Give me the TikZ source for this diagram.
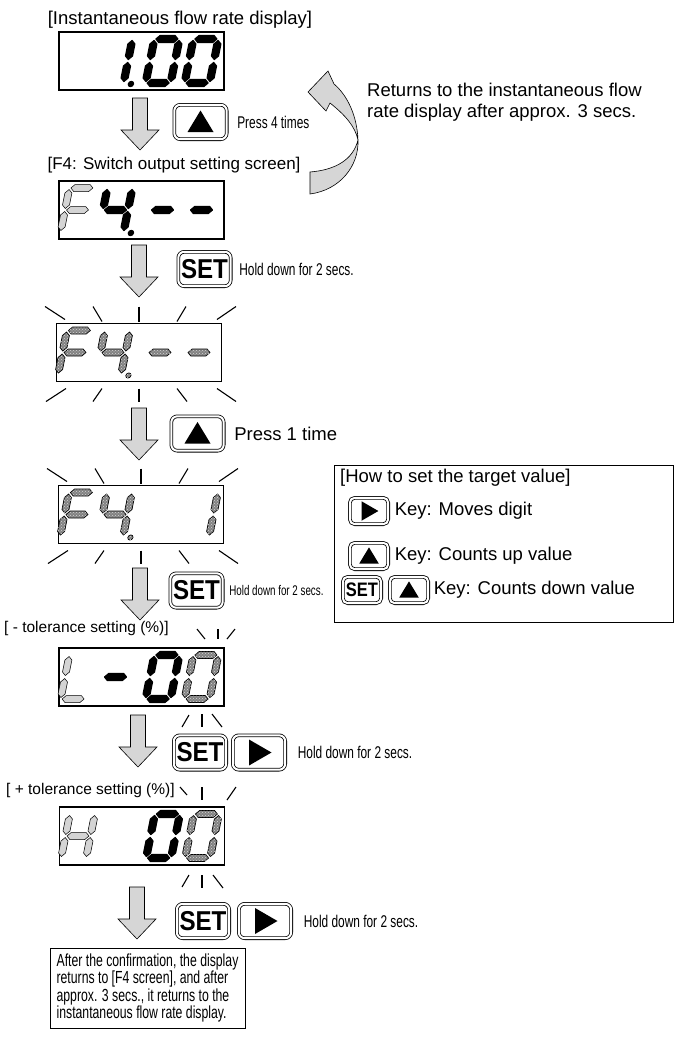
\documentclass[tikz,border=0pt]{standalone}
\usepackage{fontspec}
\setmainfont{Liberation Sans}
\newfontfamily\narrowfont[FakeStretch=0.7]{Liberation Sans}
\usepackage{graphicx}
\usetikzlibrary{positioning,calc,patterns}

\definecolor{segdark}{RGB}{130,130,130}
\definecolor{seglight}{RGB}{212,212,212}
\definecolor{flowgray}{RGB}{214,214,214}

\newcommand{\bigtxt}{\fontsize{18.5}{21}\selectfont}
\newcommand{\midtxt}{\fontsize{17}{20}\selectfont}
\newcommand{\lowtxt}{\fontsize{15.5}{18}\selectfont}
\newcommand{\smalltxt}{\narrowfont\fontsize{17}{19}\selectfont}
\newcommand{\tinytxt}{\narrowfont\fontsize{14}{16}\selectfont}
\newcommand{\setlabel}{\fontsize{21}{21}\selectfont\bfseries\scalebox{1.15}[1.3]{SET}}
\newcommand{\setlabelsmall}{\fontsize{15}{15}\selectfont\bfseries\scalebox{1.1}[1.3]{SET}}

% one digit of the display, unslanted, y up
\newcommand{\lcdsega}{(-11,22) -- (-7.5,25.5) -- (7.5,25.5) -- (11,22) -- (7.5,18.5) -- (-7.5,18.5) -- cycle}
\newcommand{\lcdsegb}{(12.5,1.5) -- (9,5) -- (9,17) -- (12.5,20.5) -- (16,17) -- (16,5) -- cycle}
\newcommand{\lcdsegc}{(12.5,-1.5) -- (9,-5) -- (9,-17) -- (12.5,-20.5) -- (16,-17) -- (16,-5) -- cycle}
\newcommand{\lcdsegd}{(-11,-22) -- (-7.5,-18.5) -- (7.5,-18.5) -- (11,-22) -- (7.5,-25.5) -- (-7.5,-25.5) -- cycle}
\newcommand{\lcdsege}{(-12.5,-1.5) -- (-16,-5) -- (-16,-17) -- (-12.5,-20.5) -- (-9,-17) -- (-9,-5) -- cycle}
\newcommand{\lcdsegf}{(-12.5,1.5) -- (-16,5) -- (-16,17) -- (-12.5,20.5) -- (-9,17) -- (-9,5) -- cycle}
\newcommand{\lcdsegg}{(-11,0) -- (-7.5,3.5) -- (7.5,3.5) -- (11,0) -- (7.5,-3.5) -- (-7.5,-3.5) -- cycle}
\newcommand{\lcdsegp}{(20,-23) circle (2.6)}

\newcommand{\lcddigit}[4]{%
  \edef\lcdoff{\ifcase#2\or-64\or-26\or21\or60\fi}%
  \begin{scope}[shift={($(#1.center)+(\lcdoff,0)$)}, yscale=-1, xslant=-0.2]
    \foreach \s in {#3} {\expandafter\let\expandafter\lcdcur\csname lcdseg\s\endcsname
      \path[#4] \lcdcur;}
  \end{scope}}

\newcommand{\flashall}[1]{%
  \begin{scope}[shift={(#1.center)}]
    \foreach \xa/\ya/\xb/\yb in {-94/-46/-74/-33, -46/-46/-37/-31, 0/-46/0/-31, 47/-46/38/-31, 97/-46/78/-33,
        -73/36/-93/49, -37/36/-46/49, 0/36/0/49, 38/36/48/49, 78/36/97/49}
      \draw[ray] (\xa,\ya) -- (\xb,\yb);
  \end{scope}}

\newcommand{\flowarrow}[1]{%
  \filldraw[flow, shift={(#1)}] (-7.5,0) -- (7.5,0) -- (7.5,32) -- (19,32) -- (0,52) -- (-19,32) -- (-7.5,32) -- cycle;}
\newcommand{\uptri}[2][1]{\fill[shift={(#2.center)}, scale=#1] (-13,10) -- (13,10) -- (0,-11.5) -- cycle;}
\newcommand{\righttri}[2][1]{\fill[shift={(#2.center)}, scale=#1] (-10,-13) -- (-10,13) -- (12.5,0) -- cycle;}

\begin{document}
\begin{tikzpicture}[x=1pt, y=-1pt,
    txt/.style={font=\bigtxt, inner sep=0pt},
    nar/.style={font=\smalltxt, inner sep=0pt},
    lcd/.style={draw, line width=1.1pt, minimum width=165pt, minimum height=58pt, inner sep=0pt},
    key/.style={draw, rounded corners=6pt, double, double distance=2pt, line width=0.8pt,
                minimum width=52.4pt, minimum height=34.4pt, inner sep=0pt},
    smallkey/.style={key, rounded corners=5pt, minimum width=38.4pt, minimum height=26.4pt},
    segon/.style={fill=black, draw=black, line width=1.2pt, line join=round},
    segdim/.style={fill=seglight, draw=black, line width=0.5pt},
    segblink/.style={fill=segdark, draw=black, line width=0.7pt,
                     postaction={pattern=crosshatch dots, pattern color=seglight}},
    ray/.style={line width=1.1pt},
    flow/.style={fill=flowgray, draw=black, line width=0.6pt}
  ]
  \useasboundingbox (0,0) rectangle (675,1039);

  \node[txt] (t1) at (180,20) {[Instantaneous flow rate display]};
  \node[lcd] (d1) at (141.5,61) {};
  \lcddigit{d1}{2}{b,c,p}{segon}
  \lcddigit{d1}{3}{a,b,c,d,e,f}{segon}
  \lcddigit{d1}{4}{a,b,c,d,e,f}{segon}

  \coordinate (a1) at (140,98);
  \flowarrow{a1}
  \node[key] (k1) at (200.5,122) {};
  \uptri{k1}
  \node[nar, right=10pt of k1] (p1) {Press 4 times};

  \filldraw[flow] (310,194) .. controls (340,190) and (359,166) .. (358,140)
    .. controls (357,115) and (347,95) .. (334,84) -- (328,71) -- (308,92) -- (326,111) -- (330,103)
    .. controls (345,115) and (355,126) .. (358,140)
    .. controls (353,160) and (335,170) .. (310,172) -- cycle;
  \node[txt, anchor=west, align=left] (ret) at (367,102) {Returns to the instantaneous flow\\rate display after approx. 3 secs.};

  \node[txt, font=\midtxt] (t2) at (174,165) {[F4: Switch output setting screen]};
  \node[lcd] (d2) at (141.5,210) {};
  \lcddigit{d2}{1}{a,f,g,e}{segdim}
  \lcddigit{d2}{2}{f,g,b,c,p}{segon}
  \lcddigit{d2}{3}{g}{segon}
  \lcddigit{d2}{4}{g}{segon}

  \coordinate (a2) at (139,245);
  \flowarrow{a2}
  \node[key] (k2) at (204.5,269) {\setlabel};
  \node[nar, right=8pt of k2] (h2) {Hold down for 2 secs.};

  \node[lcd] (d3) at (139,352.5) {};
  \lcddigit{d3}{1}{a,f,g,e}{segblink}
  \lcddigit{d3}{2}{f,g,b,c,p}{segblink}
  \lcddigit{d3}{3}{g}{segblink}
  \lcddigit{d3}{4}{g}{segblink}
  \flashall{d3}

  \coordinate (a3) at (139,408);
  \flowarrow{a3}
  \node[key] (k3) at (197.5,433.5) {};
  \uptri{k3}
  \node[txt, right=10pt of k3] (p3) {Press 1 time};

  \node[lcd] (d4) at (141,514.5) {};
  \lcddigit{d4}{1}{a,f,g,e}{segblink}
  \lcddigit{d4}{2}{f,g,b,c,p}{segblink}
  \lcddigit{d4}{4}{b,c}{segblink}
  \flashall{d4}

  \coordinate (a4) at (140,568);
  \flowarrow{a4}
  \node[key] (k4) at (196.5,590.5) {\setlabel};
  \node[nar, font=\tinytxt, right=6pt of k4] (h4) {Hold down for 2 secs.};

  \node[txt, font=\lowtxt, anchor=west] (t5) at (4,628) {[ - tolerance setting (\%)]};
  \node[lcd] (d5) at (141.5,677) {};
  \lcddigit{d5}{1}{f,e,d}{segdim}
  \lcddigit{d5}{2}{g}{segon}
  \lcddigit{d5}{3}{a,b,c,d,e,f}{segon}
  \lcddigit{d5}{4}{a,b,c,d,e,f}{segblink}
  \begin{scope}[shift={(d5.center)}]
    \foreach \xa/\ya/\xb/\yb in {55.5/-48/63.5/-38, 76.5/-48/76.5/-38, 93.5/-48/85.5/-38,
        47.5/38/40.5/50, 60.5/37/60.5/50, 70.5/37/80.5/50}
      \draw[ray] (\xa,\ya) -- (\xb,\yb);
  \end{scope}

  \coordinate (a5) at (138,715);
  \flowarrow{a5}
  \node[key] (k5a) at (200,752.5) {\setlabel};
  \node[key] (k5b) at (259,752.5) {};
  \righttri{k5b}
  \node[nar, right=12pt of k5b] (h5) {Hold down for 2 secs.};

  \node[txt, font=\lowtxt, anchor=west] (t6) at (6,790) {[ + tolerance setting (\%)]};
  \node[lcd] (d6) at (142,836) {};
  \lcddigit{d6}{1}{f,e,g,b,c}{segdim}
  \lcddigit{d6}{3}{a,b,c,d,e,f}{segon}
  \lcddigit{d6}{4}{a,b,c,d,e,f}{segblink}
  \begin{scope}[shift={(d6.center)}]
    \foreach \xa/\ya/\xb/\yb in {38/-49/45/-41, 60/-49/60/-36, 94/-49/85/-36,
        47/39/40/51, 60/39/60/52, 71/39/81/52}
      \draw[ray] (\xa,\ya) -- (\xb,\yb);
  \end{scope}

  \coordinate (a6) at (137,887);
  \flowarrow{a6}
  \node[key] (k6a) at (203,921) {\setlabel};
  \node[key] (k6b) at (265,921) {};
  \righttri{k6b}
  \node[nar, right=12pt of k6b] (h6) {Hold down for 2 secs.};

  \node[draw, line width=1pt, minimum width=195pt, minimum height=80pt,
        align=left, inner sep=3pt, font=\narrowfont\fontsize{17.5}{16}\selectfont] (fin) at (147.5,988)
    {After the confirmation, the display\\returns to [F4 screen], and after\\approx. 3 secs., it returns to the\\instantaneous flow rate display.};

  \node[draw, line width=1pt, minimum width=339pt, minimum height=157pt, inner sep=0pt] (howto) at (503.5,543.5) {};
  \node[txt, anchor=west] (ht) at (340,478) {[How to set the target value]};
  \node[smallkey] (hk1) at (369,511) {};
  \righttri[0.75]{hk1}
  \node[txt, right=6pt of hk1] (hl1) {Key: Moves digit};
  \node[smallkey] (hk2) at (369,556) {};
  \uptri[0.75]{hk2}
  \node[txt, right=6pt of hk2] (hl2) {Key: Counts up value};
  \node[smallkey] (hk3a) at (362,590) {\setlabelsmall};
  \node[smallkey] (hk3b) at (409,590) {};
  \uptri[0.75]{hk3b}
  \node[txt, right=5pt of hk3b] (hl3) {Key: Counts down value};
\end{tikzpicture}
\end{document}
